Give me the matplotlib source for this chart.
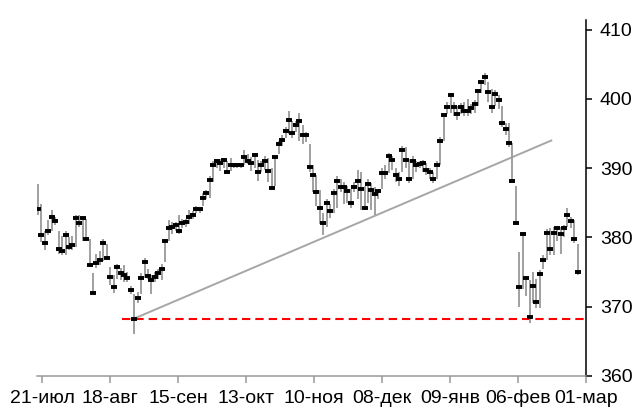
import numpy as np
import matplotlib.pyplot as plt

# daily bars: close / high / low
close = [384.1, 380.4, 379.2, 380.9, 383.0, 382.4, 378.3, 378.1, 380.4, 378.6,
         378.9, 382.8, 382.1, 382.8, 379.8, 376.0, 372.0, 376.3, 376.7, 379.2,
         377.0, 374.3, 372.9, 375.7, 374.8, 374.6, 374.2, 372.4, 368.3, 371.3,
         374.2, 376.4, 374.5, 373.9, 374.3, 374.9, 375.5, 379.5, 381.4, 381.5,
         381.8, 381.0, 382.1, 382.2, 382.9, 383.2, 384.1, 384.1, 385.7, 386.4,
         388.3, 390.4, 391.0, 390.8, 391.2, 389.5, 390.4, 390.4, 390.4, 390.4,
         391.6, 391.0, 390.8, 391.9, 389.4, 390.4, 391.1, 389.6, 387.2, 391.6,
         393.5, 394.1, 395.4, 397.0, 395.1, 396.2, 396.8, 394.8, 394.8, 390.2,
         389.0, 386.5, 384.2, 382.1, 385.0, 383.8, 386.4, 388.1, 387.3, 387.3,
         386.7, 385.0, 387.3, 388.1, 387.0, 384.2, 387.7, 386.9, 386.3, 386.7,
         389.3, 389.3, 391.8, 391.2, 389.0, 388.5, 392.7, 391.2, 388.5, 391.1,
         390.4, 390.6, 390.8, 389.7, 389.4, 388.5, 390.4, 394.0, 397.7, 398.9,
         400.5, 398.9, 397.8, 398.9, 398.3, 398.3, 398.7, 399.3, 401.1, 402.4,
         403.1, 401.0, 398.9, 400.7, 399.9, 396.6, 395.6, 393.6, 388.2, 382.1,
         372.9, 380.5, 374.1, 368.5, 373.0, 370.7, 374.7, 376.7, 380.6, 378.4,
         380.6, 381.3, 380.5, 381.3, 383.2, 382.4, 379.8, 375.0]
high = [387.7, 384.9, 381.0, 382.5, 383.9, 383.0, 381.0, 380.2, 381.0, 380.0,
        380.2, 383.3, 383.2, 383.0, 382.7, 379.8, 374.8, 377.6, 378.0, 379.8,
        379.0, 375.7, 374.6, 376.2, 375.6, 376.0, 375.0, 373.0, 371.8, 372.2,
        374.8, 377.0, 375.5, 374.6, 375.0, 375.5, 376.2, 379.8, 382.5, 382.3,
        382.3, 383.2, 382.6, 382.7, 383.9, 383.8, 384.6, 384.4, 386.4, 386.9,
        388.9, 391.0, 391.3, 391.4, 391.5, 391.0, 391.5, 390.8, 390.8, 390.7,
        392.6, 392.0, 391.6, 392.2, 391.2, 391.0, 391.8, 391.5, 390.0, 391.9,
        394.0, 394.8, 395.9, 398.2, 396.8, 396.8, 398.0, 396.2, 395.2, 393.5,
        390.5, 389.0, 386.8, 383.5, 385.5, 384.8, 387.0, 388.9, 388.5, 388.0,
        387.5, 387.0, 388.0, 389.8, 389.5, 387.5, 388.5, 387.8, 387.3, 387.0,
        390.0, 390.5, 392.2, 391.8, 390.0, 389.5, 393.2, 393.0, 391.3, 391.8,
        391.0, 391.0, 391.2, 390.8, 390.0, 389.5, 391.0, 394.5, 398.0, 399.5,
        400.8, 399.5, 399.0, 399.4, 399.5, 400.0, 399.2, 399.8, 401.5, 402.8,
        403.8, 402.5, 401.5, 401.3, 400.5, 399.0, 396.5, 396.5, 393.6, 387.4,
        377.9, 380.8, 374.5, 373.8, 375.0, 374.0, 375.3, 377.5, 381.2, 381.4,
        381.5, 381.6, 381.5, 381.8, 384.3, 383.0, 382.5, 379.1]
low = [383.2, 379.4, 378.2, 380.4, 381.0, 381.8, 377.6, 377.4, 377.4, 378.2,
       378.2, 378.6, 381.5, 379.5, 379.5, 375.8, 371.9, 375.6, 376.0, 376.6,
       376.7, 373.2, 372.0, 374.0, 373.8, 373.6, 373.5, 371.8, 366.1, 370.5,
       371.9, 374.2, 374.0, 371.9, 373.5, 374.0, 373.8, 376.5, 379.5, 380.5,
       381.0, 380.5, 381.4, 381.5, 382.0, 382.6, 383.6, 383.5, 384.6, 385.5,
       385.7, 388.0, 390.0, 389.6, 390.0, 389.2, 389.6, 390.0, 390.0, 390.0,
       390.5, 390.6, 389.6, 390.0, 388.2, 389.5, 389.8, 388.0, 386.9, 387.4,
       392.0, 393.2, 394.3, 395.0, 394.4, 395.2, 394.0, 393.5, 393.8, 389.5,
       386.5, 384.5, 382.0, 380.3, 381.5, 382.8, 383.5, 384.2, 386.5, 384.8,
       385.0, 384.3, 386.5, 385.5, 384.0, 383.9, 385.0, 384.0, 383.3, 385.5,
       387.0, 388.5, 389.3, 389.8, 388.0, 387.5, 389.4, 390.0, 387.8, 388.5,
       389.5, 390.0, 389.5, 389.0, 388.5, 387.8, 388.5, 390.5, 394.0, 397.8,
       398.0, 397.5, 397.0, 397.8, 397.5, 397.5, 397.8, 398.0, 399.0, 400.8,
       402.0, 399.5, 398.0, 399.0, 398.5, 396.0, 394.8, 393.0, 388.0, 382.0,
       370.0, 372.5, 371.5, 367.6, 370.5, 369.8, 369.8, 375.5, 376.8, 377.5,
       377.5, 379.5, 377.6, 380.0, 381.5, 381.3, 379.2, 374.6]

date_labels = ['21-июл', '18-авг', '15-сен', '13-окт', '10-ноя',
               '08-дек', '09-янв', '06-фев', '01-мар']

# trend line (bar index, price) and support level
trend_x = [28, 149.3]
trend_y = [368.3, 394.0]
support = 368.3
support_from = 24.5

plt.rcParams['font.family'] = ['Liberation Sans', 'DejaVu Sans']

fig = plt.figure(figsize=(6.43, 4.12), dpi=100)
ax = fig.add_axes([37/643, 1 - 376/412, (586 - 37)/643, (376 - 20)/412])

days = np.arange(len(close))
x_right = 159.4
ax.vlines(days, low, high, color='#999999', lw=1.3, zorder=2)
ax.plot(days, close, ls='none', marker='_', ms=4.6, mew=2.8, color='black', zorder=3)
ax.plot(trend_x, trend_y, color='#a6a6a6', lw=1.4, zorder=1)
ax.hlines(support, support_from, x_right, colors='#ff0000', lw=1.5,
          linestyles=(0, (4, 2.4)), zorder=1)

ax.set_xlim(-0.3, x_right)
ax.set_ylim(360, 411.4)
ax.set_xticks(np.linspace(1.2, x_right, len(date_labels)))
ax.set_xticklabels(date_labels)
ax.set_yticks(np.arange(360, 411, 10))

for s in ['top', 'left']:
    ax.spines[s].set_visible(False)
ax.spines['right'].set_color('black')
ax.spines['right'].set_linewidth(1.1)
ax.spines['bottom'].set_color('#999999')
ax.spines['bottom'].set_linewidth(1.1)

ax.yaxis.tick_right()
ax.tick_params(axis='y', direction='out', length=4, width=1.1, color='black',
               labelsize=14, pad=6)
ax.tick_params(axis='x', direction='out', length=5, width=1.1, color='#999999',
               labelsize=14, pad=5)

fig.savefig('out.png', dpi=100)
